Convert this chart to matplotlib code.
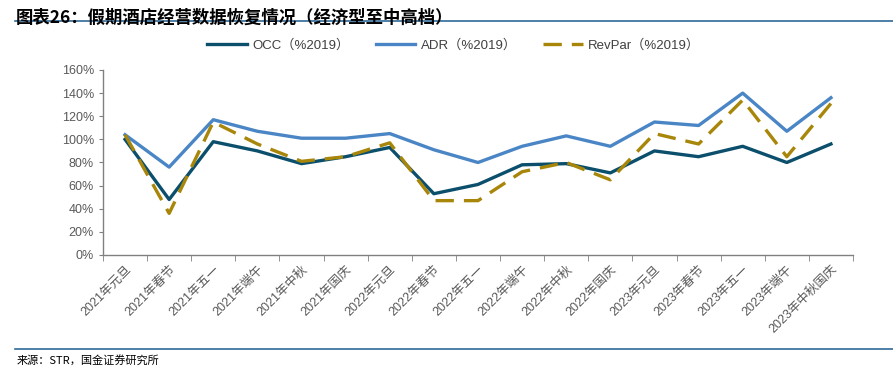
import matplotlib.pyplot as plt
import numpy as np
from matplotlib.ticker import FuncFormatter, FixedLocator

plt.rcParams['font.family'] = ['Liberation Sans', 'Noto Sans CJK SC', 'DejaVu Sans']

categories = ['2021年元旦', '2021年春节', '2021年五一', '2021年端午', '2021年中秋', '2021年国庆',
              '2022年元旦', '2022年春节', '2022年五一', '2022年端午', '2022年中秋', '2022年国庆',
              '2023年元旦', '2023年春节', '2023年五一', '2023年端午', '2023年中秋国庆']
occ = [100, 48, 98, 90, 79, 85, 93, 53, 61, 78, 79, 71, 90, 85, 94, 80, 96]
adr = [104, 76, 117, 107, 101, 101, 105, 91, 80, 94, 103, 94, 115, 112, 140, 107, 136]
revpar = [104, 36, 115, 96, 81, 85, 97, 47, 47, 72, 80, 65, 105, 96, 134, 85, 131]

fig = plt.figure(figsize=(8.93, 3.67), dpi=100)
ax = fig.add_axes([0.1153, 0.3052, 0.8399, 0.5041])

x = np.arange(len(categories))
ax.plot(x, occ, color='#0B4F6C', lw=2.4, label='OCC（%2019）')
ax.plot(x, adr, color='#4A86C5', lw=2.4, label='ADR（%2019）')
ax.plot(x, revpar, color='#A8860A', lw=2.4, dashes=(5.5, 3), label='RevPar（%2019）')

ax.set_xlim(-0.5, len(categories) - 0.5)
ax.set_ylim(0, 160)
ax.set_yticks(np.arange(0, 161, 20))
ax.yaxis.set_major_formatter(FuncFormatter(lambda v, p: f'{v:.0f}%'))

ax.set_xticks(x)
ax.set_xticklabels(categories, rotation=45, ha='right', rotation_mode='anchor')
ax.xaxis.set_minor_locator(FixedLocator(np.arange(-0.5, len(categories), 1)))
ax.tick_params(axis='x', which='major', length=0, pad=6)
ax.tick_params(axis='x', which='minor', length=4, direction='out', color='#808080')
ax.tick_params(axis='y', length=3, color='#808080')
ax.tick_params(labelsize=9, labelcolor='#595959')

for s in ['top', 'right']:
    ax.spines[s].set_visible(False)
for s in ['left', 'bottom']:
    ax.spines[s].set_color('#808080')
    ax.spines[s].set_linewidth(1.0)

fig.legend(loc='center', bbox_to_anchor=(0.508, 0.877), ncol=3, frameon=False,
           handlelength=3.0, handletextpad=0.4, columnspacing=2.0, fontsize=9.5,
           labelcolor='#404040')

fig.text(0.018, 0.975, '图表26：假期酒店经营数据恢复情况（经济型至中高档）', fontsize=12.5,
         fontweight='bold', style='italic', va='top', ha='left',
         family=['Noto Sans CJK SC', 'DejaVu Sans'])
fig.add_artist(plt.Line2D([0.017, 1.0], [0.942, 0.942], color='#2E6A9A', lw=1.2))
fig.add_artist(plt.Line2D([0.017, 1.0], [0.049, 0.049], color='#2E6A9A', lw=1.2))
fig.text(0.019, 0.018, '来源：STR，国金证券研究所', fontsize=8, va='center', ha='left',
         family=['Noto Sans CJK SC', 'DejaVu Sans'])

fig.savefig('out.png', dpi=100)
